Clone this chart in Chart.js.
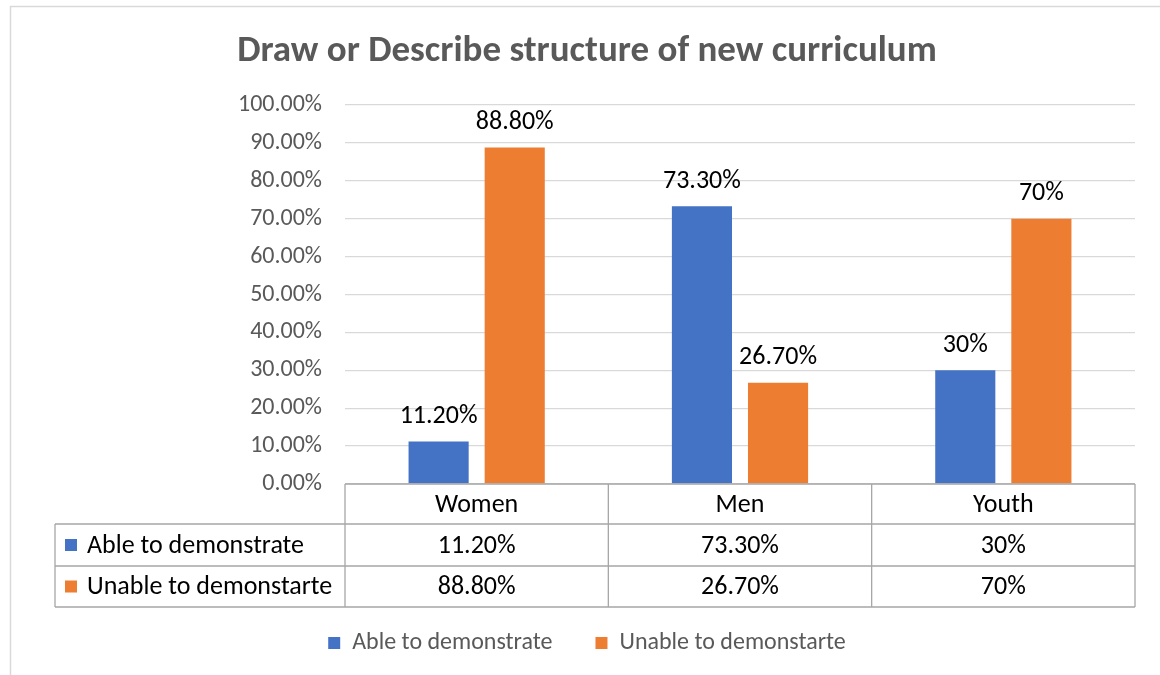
<!DOCTYPE html>
<html><head><meta charset="utf-8">
<script src="https://cdn.jsdelivr.net/npm/chart.js@4.4.0/dist/chart.umd.min.js"></script>
<style>html,body{margin:0;padding:0;background:#fff;}#wrap{width:1160px;height:675px;position:relative;}</style>
</head><body><div id="wrap"><canvas id="c" width="1160" height="675"></canvas></div>
<script>
const categories = ["Women", "Men", "Youth"];
const seriesNames = ["Able to demonstrate", "Unable to demonstarte"];
const ableValues = [11.2, 73.3, 30];
const unableValues = [88.8, 26.7, 70];
const seriesColors = ["#4472C4", "#ED7D31"];
const yMin = 0, yMax = 100, yStep = 10;

const FONT = "Carlito, Lato, 'Open Sans', sans-serif";
const fmt = v => (Number.isInteger(v) ? String(v) : v.toFixed(2)) + '%';

const excelPlugin = {
  id: 'excelTable',
  beforeDraw(chart) {
    const ctx = chart.ctx;
    ctx.save();
    ctx.fillStyle = '#fff';
    ctx.fillRect(0, 0, chart.width, chart.height);
    ctx.strokeStyle = '#d9d9d9';
    ctx.lineWidth = 1.5;
    ctx.beginPath();
    ctx.moveTo(10.5, chart.height);
    ctx.lineTo(10.5, 6.5);
    ctx.lineTo(chart.width, 6.5);
    ctx.stroke();
    ctx.restore();
  },
  afterDatasetsDraw(chart) {
    const ctx = chart.ctx;
    ctx.save();
    ctx.font = `26px ${FONT}`;
    ctx.fillStyle = '#000';
    ctx.textAlign = 'center';
    ctx.textBaseline = 'middle';
    chart.data.datasets.forEach((ds, j) => {
      chart.getDatasetMeta(j).data.forEach((el, i) => {
        ctx.fillText(fmt(ds.data[i]), el.x, el.y - 25);
      });
    });
    ctx.restore();
  },
  afterDraw(chart) {
    const ctx = chart.ctx;
    const a = chart.chartArea;
    const xs = chart.scales.x;
    const n = chart.data.labels.length;
    const cw = a.width / n;
    const top = a.bottom;
    const headLeft = 55;
    const r1 = top + 40, r2 = r1 + 42, r3 = r2 + 41;
    ctx.save();
    ctx.strokeStyle = '#a6a6a6';
    ctx.lineWidth = 1.3;
    const line = (x1, y1, x2, y2) => { ctx.beginPath(); ctx.moveTo(x1, y1); ctx.lineTo(x2, y2); ctx.stroke(); };
    line(a.left, top, a.right, top);
    line(headLeft, r1, a.right, r1);
    line(headLeft, r2, a.right, r2);
    line(headLeft, r3, a.right, r3);
    for (let i = 0; i <= n; i++) line(a.left + i * cw, top, a.left + i * cw, r3);
    line(headLeft, r1, headLeft, r3);

    ctx.font = `26px ${FONT}`;
    ctx.fillStyle = '#000';
    ctx.textBaseline = 'middle';
    ctx.textAlign = 'center';
    chart.data.labels.forEach((c, i) => ctx.fillText(c, xs.getPixelForValue(i), (top + r1) / 2 + 1));
    const rows = [[r1, r2], [r2, r3]];
    chart.data.datasets.forEach((ds, j) => {
      const cy = (rows[j][0] + rows[j][1]) / 2;
      ctx.fillStyle = ds.backgroundColor;
      ctx.fillRect(65, cy - 6, 12, 12);
      ctx.fillStyle = '#000';
      ctx.textAlign = 'left';
      ctx.fillText(ds.label, 87, cy + 1);
      ctx.textAlign = 'center';
      ds.data.forEach((v, i) => ctx.fillText(fmt(v), xs.getPixelForValue(i), cy + 1));
    });
    ctx.restore();
  }
};

new Chart(document.getElementById('c'), {
  type: 'bar',
  data: {
    labels: categories,
    datasets: [
      { label: seriesNames[0], data: ableValues, backgroundColor: seriesColors[0] },
      { label: seriesNames[1], data: unableValues, backgroundColor: seriesColors[1] }
    ]
  },
  options: {
    responsive: false,
    animation: false,
    devicePixelRatio: 1,
    datasets: { bar: { categoryPercentage: 0.578, barPercentage: 0.79 } },
    layout: { padding: { left: 39, right: 25, top: 0, bottom: 10 } },
    plugins: {
      tooltip: { enabled: false },
      title: {
        display: true,
        text: 'Draw or Describe structure of new curriculum',
        color: '#595959',
        font: { family: FONT, size: 37, weight: 'bold' },
        padding: { top: 30, bottom: 30.6 }
      },
      legend: {
        position: 'bottom',
        labels: {
          color: '#595959',
          font: { family: FONT, size: 24 },
          boxWidth: 12, boxHeight: 12,
          padding: 43
        }
      }
    },
    scales: {
      x: {
        grid: { display: false },
        border: { display: false },
        ticks: { display: false },
        afterFit(scale) { scale.height = 104; }
      },
      y: {
        min: yMin, max: yMax,
        ticks: {
          stepSize: yStep,
          color: '#595959',
          font: { family: FONT, size: 24 },
          padding: 23,
          callback: v => v.toFixed(2) + '%'
        },
        grid: { color: '#d9d9d9', drawTicks: false, lineWidth: 1.3 },
        border: { display: false },
        afterFit(scale) { scale.width = 306; }
      }
    }
  },
  plugins: [excelPlugin]
});
</script>
</body></html>
